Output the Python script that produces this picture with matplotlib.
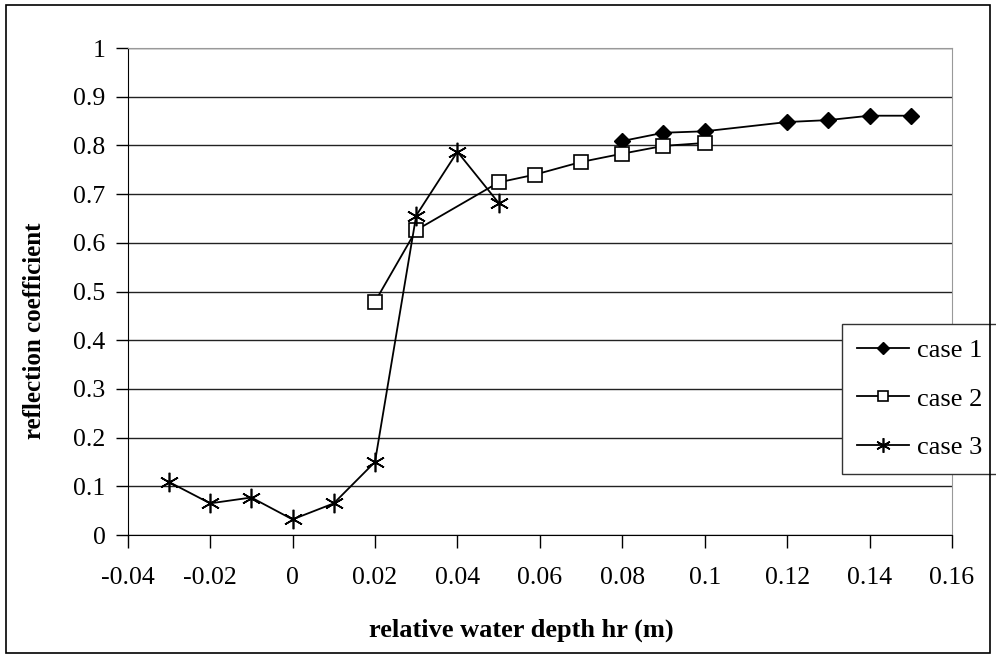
import matplotlib
matplotlib.use("Agg")
import matplotlib.pyplot as plt
from matplotlib.patches import Rectangle

plt.rcParams['font.family'] = ['Liberation Serif', 'DejaVu Serif']

# case 1
x1 = [0.08, 0.09, 0.10, 0.12, 0.13, 0.14, 0.15]
y1 = [0.809, 0.826, 0.829, 0.848, 0.852, 0.861, 0.861]

# case 2
x2 = [0.02, 0.03, 0.05, 0.0588, 0.07, 0.08, 0.09, 0.10]
y2 = [0.479, 0.626, 0.724, 0.740, 0.766, 0.783, 0.799, 0.805]

# case 3
x3 = [-0.03, -0.02, -0.01, 0.0, 0.01, 0.02, 0.03, 0.04, 0.05]
y3 = [0.109, 0.065, 0.077, 0.032, 0.065, 0.150, 0.656, 0.787, 0.682]

xticks = [-0.04, -0.02, 0, 0.02, 0.04, 0.06, 0.08, 0.1, 0.12, 0.14, 0.16]
xtick_labels = ['-0.04', '-0.02', '0', '0.02', '0.04', '0.06', '0.08', '0.1', '0.12', '0.14', '0.16']
yticks = [0, 0.1, 0.2, 0.3, 0.4, 0.5, 0.6, 0.7, 0.8, 0.9, 1]
ytick_labels = ['0', '0.1', '0.2', '0.3', '0.4', '0.5', '0.6', '0.7', '0.8', '0.9', '1']

fig = plt.figure(figsize=(9.96, 6.55), dpi=100)
ax = fig.add_axes([0.1282, 0.1832, 0.8276, 0.7435])

# outer frame round the whole chart
fig.patches.append(Rectangle((6 / 996, 2 / 655), 984 / 996, 648 / 655,
                             transform=fig.transFigure, fill=False,
                             edgecolor='black', linewidth=1.2))

star = (6, 2, 0)
ax.plot(x1, y1, color='black', lw=1.3, marker='D', markersize=8.5,
        markerfacecolor='black', markeredgecolor='black', label='case 1')
ax.plot(x2, y2, color='black', lw=1.3, marker='s', markersize=10,
        markerfacecolor='white', markeredgecolor='black', markeredgewidth=1.2,
        label='case 2')
ax.plot(x3, y3, color='black', lw=1.3, marker=star, markersize=14,
        markeredgewidth=1.2, label='case 3')

ax.set_xlim(-0.04, 0.16)
ax.set_ylim(0, 1)
ax.set_xticks(xticks, xtick_labels)
ax.set_yticks(yticks, ytick_labels)
ax.tick_params(direction='out', length=9, width=1, labelsize=18.5, pad=7)
ax.tick_params(axis='x', pad=14)

# horizontal grid
ax.yaxis.grid(True, color='#222222', lw=1)
ax.set_axisbelow(True)

for s in ['left', 'bottom']:
    ax.spines[s].set_color('black')
for s in ['top', 'right']:
    ax.spines[s].set_color('#999999')

ax.set_xlabel('relative water depth hr (m)', fontsize=19, fontweight='bold')
ax.xaxis.set_label_coords(0.478, -0.172)
ax.set_ylabel('reflection coefficient', fontsize=18, fontweight='bold')
ax.yaxis.set_label_coords(-0.099, 0.42)

leg = ax.legend(loc='upper left', bbox_to_anchor=(842 / 996, 1 - 324 / 655),
                bbox_transform=fig.transFigure, fontsize=19, frameon=True,
                fancybox=False, edgecolor='#333333', framealpha=1,
                handlelength=2.0, handletextpad=0.3, labelspacing=0.95,
                borderpad=0.55, borderaxespad=0, markerscale=0.75)
leg.get_frame().set_linewidth(1)

fig.savefig('out.png', dpi=100)
